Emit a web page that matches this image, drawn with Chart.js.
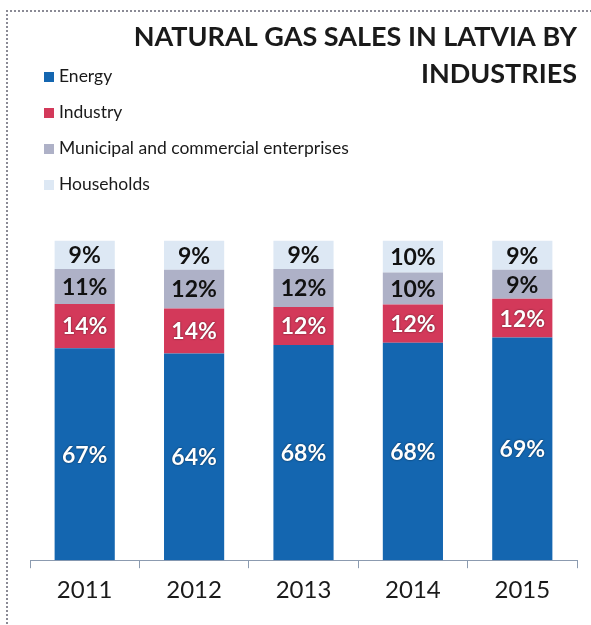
<!DOCTYPE html>
<html>
<head>
<meta charset="utf-8">
<script src="https://cdn.jsdelivr.net/npm/chart.js@4"></script>
<style>
    html, body { margin: 0; padding: 0; background: #fff; }
    #wrap { position: relative; width: 591px; height: 625px; overflow: hidden; }
    #frame { position: absolute; left: 6px; top: 10px; width: 700px; height: 700px;
        border-left: 2px dotted #8a8a95; border-top: 2px dotted #8a8a95; }
    #legend { position: absolute; left: 44px; top: 64px; font-family: Lato, sans-serif;
        font-size: 17.5px; color: #1a1a1a; }
    #legend div { height: 36px; line-height: 24px; }
    #legend span.box { display: inline-block; width: 10px; height: 10px; margin-right: 5px; }
</style>
</head>
<body>
<div id="wrap">
    <div id="frame"></div>
    <canvas id="barChart" width="591" height="625"></canvas>
    <div id="legend"></div>
</div>
<script>
var years = ["2011", "2012", "2013", "2014", "2015"];
var energy = [67, 64, 68, 68, 69];
var industry = [14, 14, 12, 12, 12];
var municipal = [11, 12, 12, 10, 9];
var households = [9, 9, 9, 10, 9];

var color = {
    blue: '#1466b0',
    red: '#d3395a',
    grey: '#aeb1c7',
    light: '#dde8f4'
};

// every bar is 100% in the picture, so scale each column to its own total
function share(series, i) {
    var total = energy[i] + industry[i] + municipal[i] + households[i];
    return series[i] / total * 100;
}
function toShares(series) {
    return series.map(function (v, i) { return share(series, i); });
}

var datasets = [
    {label: 'Energy', raw: energy, data: toShares(energy), backgroundColor: color.blue, textColor: '#fff'},
    {label: 'Industry', raw: industry, data: toShares(industry), backgroundColor: color.red, textColor: '#fff'},
    {label: 'Municipal and commercial enterprises', raw: municipal, data: toShares(municipal), backgroundColor: color.grey, textColor: '#111'},
    {label: 'Households', raw: households, data: toShares(households), backgroundColor: color.light, textColor: '#111'}
];

var segmentLabels = {
    id: 'segmentLabels',
    afterDatasetsDraw: function (chart) {
        var ctx = chart.ctx;
        ctx.save();
        ctx.font = 'bold 23px Lato, sans-serif';
        ctx.textAlign = 'center';
        ctx.textBaseline = 'middle';
        chart.data.datasets.forEach(function (ds, d) {
            chart.getDatasetMeta(d).data.forEach(function (bar, i) {
                var y = (bar.y + bar.base) / 2;
                if (ds.textColor === '#fff') {
                    ctx.shadowColor = 'rgba(0,0,0,0.6)';
                    ctx.shadowBlur = 2;
                } else {
                    ctx.shadowColor = 'transparent';
                    ctx.shadowBlur = 0;
                }
                ctx.fillStyle = ds.textColor;
                ctx.fillText(ds.raw[i] + '%', bar.x, y + 1);
            });
        });
        ctx.restore();
    }
};

var ctx = document.getElementById("barChart");
window.myBar = new Chart(ctx, {
    type: 'bar',
    data: {labels: years, datasets: datasets},
    options: {
        responsive: false,
        animation: false,
        categoryPercentage: 0.55,
        barPercentage: 1,
        layout: {padding: {top: 0, left: 30, right: 14, bottom: 12}},
        plugins: {
            legend: {display: false},
            tooltip: {enabled: false},
            title: {
                display: true,
                align: 'end',
                text: ['NATURAL GAS SALES IN LATVIA BY', 'INDUSTRIES'],
                color: '#1a1a1a',
                font: {family: 'Lato, sans-serif', size: 27, weight: 'bold', lineHeight: 1.4},
                padding: {top: 18, bottom: 147}
            }
        },
        scales: {
            x: {
                stacked: true,
                grid: {display: true, drawOnChartArea: false, drawTicks: true, tickLength: 8, color: '#8c9bb0', offset: true},
                border: {display: true, color: '#8c9bb0'},
                ticks: {color: '#1a1a1a', padding: 8, font: {family: 'Lato, sans-serif', size: 24}}
            },
            y: {
                stacked: true,
                display: false,
                min: 0,
                max: 100
            }
        }
    },
    plugins: [segmentLabels]
});

var legend = document.getElementById('legend');
datasets.forEach(function (ds) {
    var row = document.createElement('div');
    row.innerHTML = '<span class="box" style="background:' + ds.backgroundColor + '"></span>' + ds.label;
    legend.appendChild(row);
});
</script>
</body>
</html>
